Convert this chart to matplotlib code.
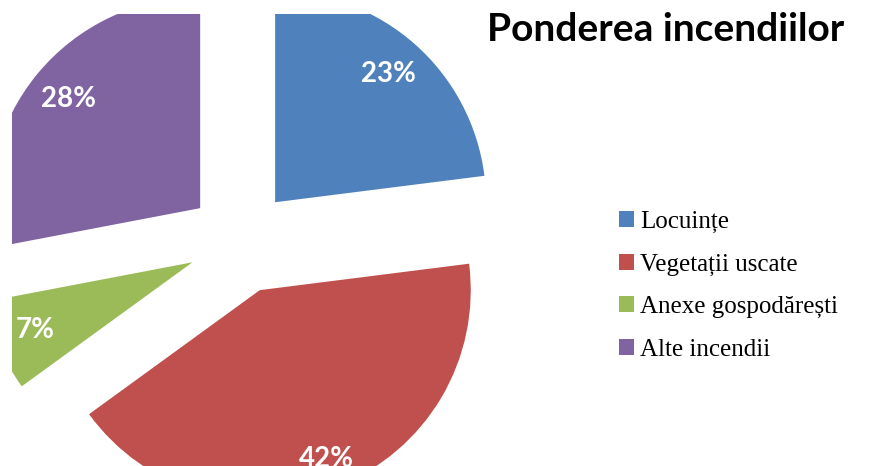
import matplotlib.pyplot as plt

categories = ["Locuințe", "Vegetații uscate", "Anexe gospodărești", "Alte incendii"]
values = [23, 42, 7, 28]
colors = ["#4F81BD", "#C0504D", "#9BBB59", "#8064A2"]
title = "Ponderea incendiilor"

W, H = 879, 466
fig = plt.figure(figsize=(W / 100, H / 100), dpi=100)

# axes box = the plot area of the original (left 12px, top 14px), slices are cut by it
ax = fig.add_axes([12 / W, 0, (500 - 12) / W, (H - 14) / H])

wedges, texts, autotexts = ax.pie(
    values,
    colors=colors,
    startangle=90,
    counterclock=False,
    explode=[0.248] * len(values),
    autopct=lambda p: f"{p:.0f}%",
    pctdistance=0.81,
    wedgeprops=dict(linewidth=0),
    textprops=dict(color="white", fontsize=20, fontweight="bold", family="Lato"),
)
for w in wedges:
    w.set_clip_on(True)
    w.set_clip_path(ax.patch)

# the 42% label sits a bit further out (cut by the bottom edge, as in the original)
cx, cy = wedges[1].center
px, py = autotexts[1].get_position()
autotexts[1].set_position((cx + (px - cx) * 0.86 / 0.81, cy + (py - cy) * 0.86 / 0.81))

# pie centre at pixel (240.5, 241.5), radius 211px
r = 211
ax.set_xlim((12 - 240.5) / r, (500 - 240.5) / r)
ax.set_ylim(-(H - 241.5) / r, (241.5 - 14) / r)
ax.set_aspect("auto")
ax.axis("off")

fig.text(487 / W, (H - 41) / H, title, fontsize=28, fontweight="bold",
         family="Lato", ha="left", va="baseline")

fig.legend(
    wedges,
    categories,
    loc="upper left",
    bbox_to_anchor=(619 / W, (H - 211) / H),
    frameon=False,
    prop=dict(family="Liberation Serif", size=18),
    handlelength=0.6,
    handleheight=0.6,
    handletextpad=0.24,
    labelspacing=0.82,
    borderpad=0,
    borderaxespad=0,
)

fig.savefig("out.png", dpi=100)
